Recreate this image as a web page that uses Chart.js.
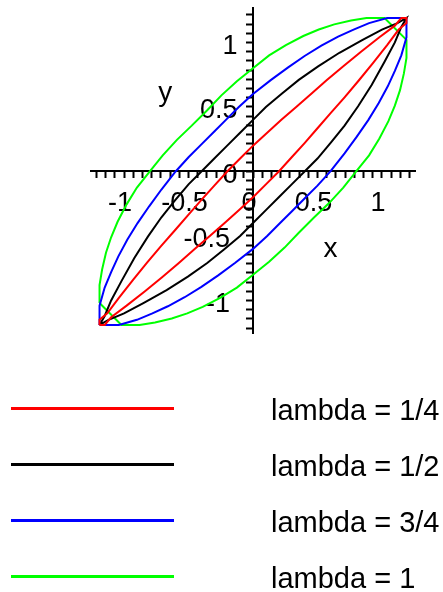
<!DOCTYPE html>
<html>
<head>
<meta charset="utf-8">
<script src="https://cdn.jsdelivr.net/npm/chart.js@4/dist/chart.umd.min.js"></script>
<style>
  html, body { margin: 0; padding: 0; background: #fff; }
</style>
</head>
<body>
<canvas id="chart" width="443" height="592"></canvas>
<script>
const seriesNames = ['lambda = 1/4', 'lambda = 1/2', 'lambda = 3/4', 'lambda = 1'];
const seriesColors = ['#ff0000', '#000000', '#0000ff', '#00ff00'];
const tickLabels = [-1, -0.5, 0, 0.5, 1];

// each curve is a closed loop of [x, y] pairs
const redCurve = [
  [-1.19, -1.19], [-1.19, -1.15], [-1.13, -1.10], [-1.04, -0.98], [-0.93, -0.84], [-0.82, -0.705],
  [-0.71, -0.575], [-0.60, -0.45], [-0.50, -0.335], [-0.40, -0.22], [-0.30, -0.11], [-0.20, 0],
  [-0.10, 0.10], [0, 0.20], [0.11, 0.30], [0.22, 0.40], [0.335, 0.50], [0.45, 0.60],
  [0.575, 0.71], [0.705, 0.82], [0.84, 0.93], [0.98, 1.04], [1.10, 1.13], [1.15, 1.19],
  [1.19, 1.19], [1.19, 1.15], [1.13, 1.10], [1.04, 0.98], [0.93, 0.84], [0.82, 0.705],
  [0.71, 0.575], [0.60, 0.45], [0.50, 0.335], [0.40, 0.22], [0.30, 0.11], [0.20, 0],
  [0.10, -0.10], [0, -0.20], [-0.11, -0.30], [-0.22, -0.40], [-0.335, -0.50], [-0.45, -0.60],
  [-0.575, -0.71], [-0.705, -0.82], [-0.84, -0.93], [-0.98, -1.04], [-1.10, -1.13], [-1.15, -1.19],
  [-1.19, -1.19]
];
const blackCurve = [
  [-1.19, -1.19], [-1.15, -1.12], [-1.10, -1.00], [-1.02, -0.85], [-0.92, -0.67], [-0.815, -0.505],
  [-0.71, -0.355], [-0.605, -0.225], [-0.50, -0.10], [-0.40, 0], [-0.30, 0.10], [-0.20, 0.20],
  [-0.10, 0.30], [0, 0.40], [0.10, 0.50], [0.225, 0.605], [0.355, 0.71], [0.505, 0.815],
  [0.67, 0.92], [0.85, 1.02], [1.00, 1.10], [1.12, 1.15], [1.19, 1.19],
  [1.15, 1.12], [1.10, 1.00], [1.02, 0.85], [0.92, 0.67], [0.815, 0.505],
  [0.71, 0.355], [0.605, 0.225], [0.50, 0.10], [0.40, 0], [0.30, -0.10], [0.20, -0.20],
  [0.10, -0.30], [0, -0.40], [-0.10, -0.50], [-0.225, -0.605], [-0.355, -0.71], [-0.505, -0.815],
  [-0.67, -0.92], [-0.85, -1.02], [-1.00, -1.10], [-1.12, -1.15], [-1.19, -1.19]
];
const blueCurve = [
  [-1.19, -1.19], [-1.19, -1.04], [-1.15, -0.90], [-1.10, -0.78], [-1.045, -0.66], [-0.975, -0.53],
  [-0.895, -0.40], [-0.805, -0.27], [-0.71, -0.14], [-0.60, 0], [-0.50, 0.11], [-0.40, 0.21],
  [-0.30, 0.31], [-0.21, 0.40], [-0.11, 0.50], [0, 0.60], [0.14, 0.71], [0.27, 0.805],
  [0.40, 0.895], [0.53, 0.975], [0.66, 1.045], [0.78, 1.10], [0.90, 1.15], [1.04, 1.19],
  [1.19, 1.19], [1.19, 1.04], [1.15, 0.90], [1.10, 0.78], [1.045, 0.66], [0.975, 0.53],
  [0.895, 0.40], [0.805, 0.27], [0.71, 0.14], [0.60, 0], [0.50, -0.11], [0.40, -0.21],
  [0.30, -0.31], [0.21, -0.40], [0.11, -0.50], [0, -0.60], [-0.14, -0.71], [-0.27, -0.805],
  [-0.40, -0.895], [-0.53, -0.975], [-0.66, -1.045], [-0.78, -1.10], [-0.90, -1.15], [-1.04, -1.19],
  [-1.19, -1.19]
];
const greenCurve = [
  [-1.19, -1.02], [-1.19, -0.88], [-1.17, -0.76], [-1.14, -0.63], [-1.10, -0.51], [-1.05, -0.39],
  [-0.98, -0.255], [-0.90, -0.125], [-0.80, 0], [-0.70, 0.125], [-0.59, 0.245], [-0.475, 0.355],
  [-0.355, 0.475], [-0.245, 0.59], [-0.125, 0.70], [0, 0.80], [0.125, 0.90], [0.255, 0.98],
  [0.39, 1.05], [0.51, 1.10], [0.63, 1.14], [0.76, 1.17], [0.88, 1.19], [1.02, 1.19],
  [1.19, 1.02], [1.19, 0.88], [1.17, 0.76], [1.14, 0.63], [1.10, 0.51], [1.05, 0.39],
  [0.98, 0.255], [0.90, 0.125], [0.80, 0], [0.70, -0.125], [0.59, -0.245], [0.475, -0.355],
  [0.355, -0.475], [0.245, -0.59], [0.125, -0.70], [0, -0.80], [-0.125, -0.90], [-0.255, -0.98],
  [-0.39, -1.05], [-0.51, -1.10], [-0.63, -1.14], [-0.76, -1.17], [-0.88, -1.19], [-1.02, -1.19],
  [-1.19, -1.02]
];

const curves = [redCurve, blackCurve, blueCurve, greenCurve];
const fontFamily = '"Liberation Sans", Arial, Helvetica, sans-serif';
const tickFont = { family: fontFamily, size: 27 };
const tickStep = 1 / 14;
const yRange = [-1.256, 1.267];

const labelFor = (value) => {
  const hit = tickLabels.find(t => Math.abs(t - value) < 1e-6);
  return hit === undefined ? '' : String(hit);
};
// negative y labels sit a little further left in the original
const yLabelFor = (value) => {
  const text = labelFor(value);
  return value < -1e-6 ? text + ' ' : text;
};

// minor ticks all along the axis, labels only where tickLabels says
const buildTicks = (scale) => {
  const ticks = [];
  for (let i = Math.ceil(scale.min / tickStep); i <= Math.floor(scale.max / tickStep); i++) {
    ticks.push({ value: i * tickStep });
  }
  scale.ticks = ticks;
};

// axes sit at the origin, keep them from pushing the plot area around
const noPadding = (scale) => {
  scale.paddingLeft = 0;
  scale.paddingRight = 0;
  scale.paddingTop = 0;
  scale.paddingBottom = 0;
};

const axisOptions = (min, max, at, extra) => ({
  type: 'linear',
  min: min,
  max: max,
  position: at,
  afterBuildTicks: buildTicks,
  afterFit: noPadding,
  border: { display: true, color: '#000', width: 2 },
  grid: { drawOnChartArea: false, drawTicks: true, tickLength: 6, tickWidth: 2, tickColor: '#000' },
  ticks: Object.assign({
    autoSkip: false,
    maxRotation: 0,
    color: '#000',
    font: tickFont,
    callback: labelFor,
  }, extra),
});

const decorations = {
  id: 'decorations',
  afterDraw(chart) {
    const { ctx, scales } = chart;
    ctx.save();
    ctx.fillStyle = '#000';
    ctx.font = '28px ' + fontFamily;
    ctx.textAlign = 'center';
    ctx.textBaseline = 'alphabetic';
    ctx.fillText('x', scales.x.getPixelForValue(0.6), scales.y.getPixelForValue(-0.66));
    ctx.fillText('y', scales.x.getPixelForValue(-0.68), scales.y.getPixelForValue(0.545));

    // legend: long sample line on the left, label further right
    ctx.textAlign = 'left';
    ctx.font = '29px ' + fontFamily;
    chart.data.datasets.forEach((ds, i) => {
      const y = 408.5 + i * 56;
      ctx.strokeStyle = ds.borderColor;
      ctx.lineWidth = 3;
      ctx.beginPath();
      ctx.moveTo(11, y);
      ctx.lineTo(174, y);
      ctx.stroke();
      ctx.fillText(ds.label, 271, y + 11.5);
    });
    ctx.restore();
  },
};

new Chart(document.getElementById('chart'), {
  type: 'scatter',
  data: {
    datasets: curves.map((pts, i) => ({
      label: seriesNames[i],
      data: pts.map(([x, y]) => ({ x, y })),
      borderColor: seriesColors[i],
      backgroundColor: seriesColors[i],
      borderWidth: 2,
      pointRadius: 0,
      showLine: true,
      fill: false,
      tension: 0,
    })),
  },
  options: {
    responsive: false,
    animation: false,
    layout: { padding: { left: 90.5, right: 27.5, top: 8, bottom: 258.5 } },
    plugins: { legend: { display: false }, tooltip: { enabled: false } },
    scales: {
      x: axisOptions(-1.26, 1.26, { y: 0 }, { padding: 10, labelOffset: -4 }),
      y: axisOptions(yRange[0], yRange[1], { x: 0 }, { callback: () => '' }),
      // the y labels stand off the axis, so they get their own label-only scale
      yLabels: {
        axis: 'y',
        type: 'linear',
        min: yRange[0],
        max: yRange[1],
        position: { x: -0.12 },
        afterBuildTicks: (scale) => { scale.ticks = tickLabels.map(v => ({ value: v })); },
        afterFit: noPadding,
        border: { display: false },
        grid: { display: false },
        ticks: { autoSkip: false, color: '#000', font: tickFont, labelOffset: 4, callback: yLabelFor },
      },
    },
  },
  plugins: [decorations],
});
</script>
</body>
</html>
